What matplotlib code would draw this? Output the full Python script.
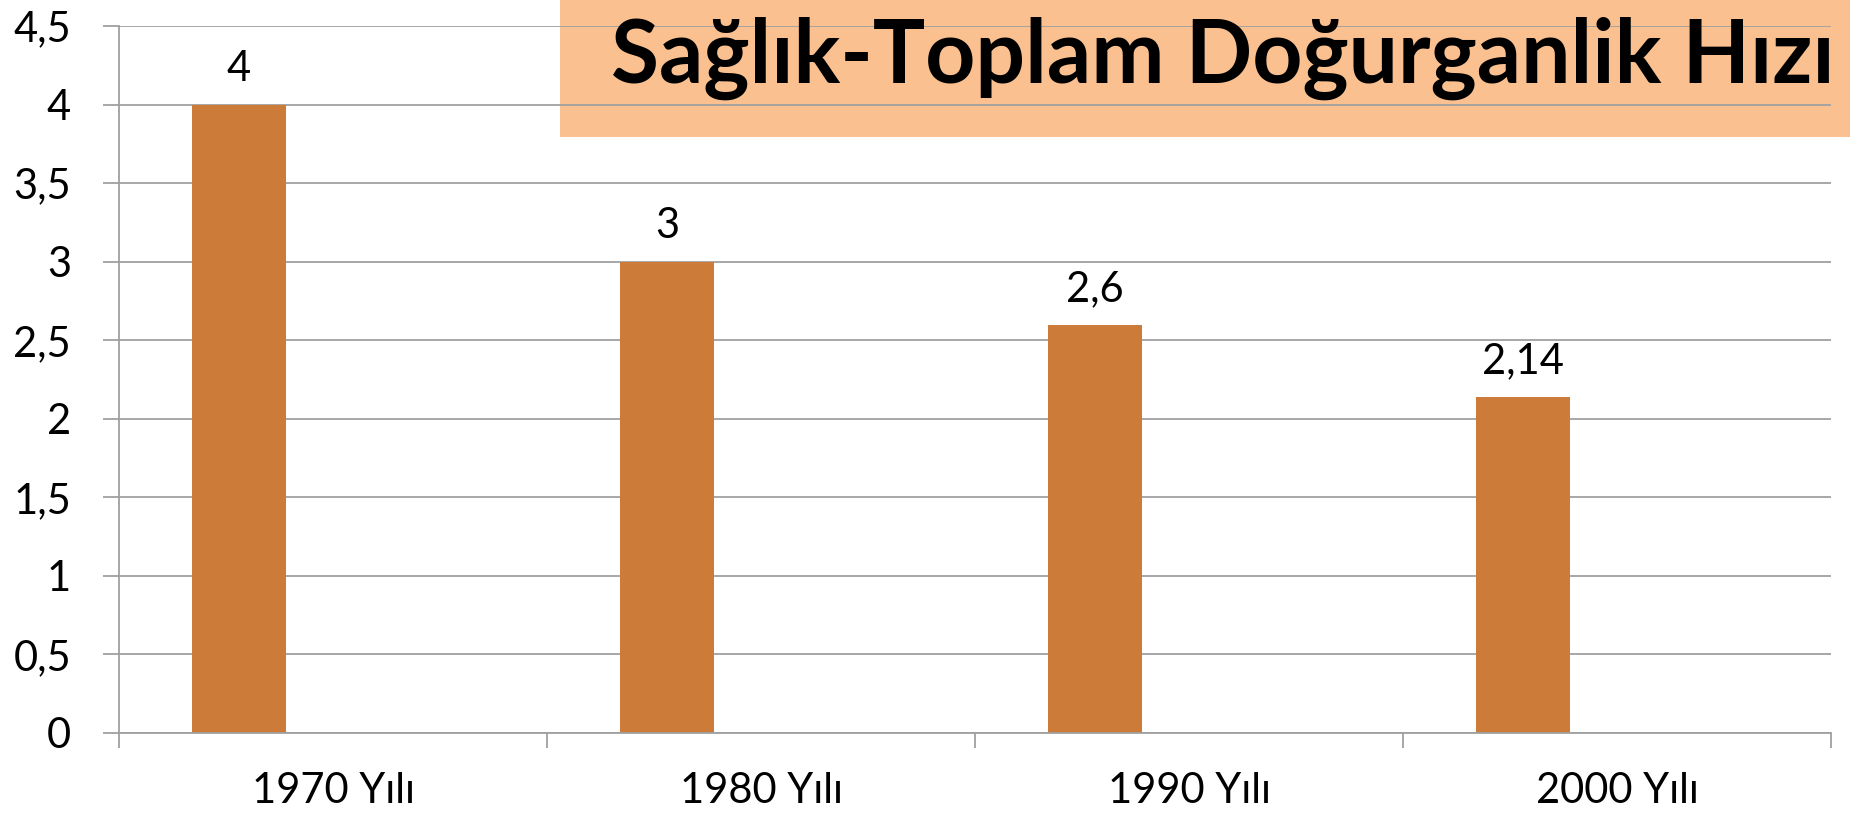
import matplotlib
matplotlib.use("Agg")
import matplotlib.pyplot as plt
from matplotlib.patches import Rectangle
from matplotlib.ticker import FixedLocator, FuncFormatter

categories = ["1970 Yılı", "1980 Yılı", "1990 Yılı", "2000 Yılı"]
values = [4, 3, 2.6, 2.14]
value_labels = ["4", "3", "2,6", "2,14"]
yticks = [0, 0.5, 1, 1.5, 2, 2.5, 3, 3.5, 4, 4.5]
title = "Sağlık-Toplam Doğurganlik Hızı"

plt.rcParams['font.family'] = ['Lato', 'DejaVu Sans']

fig = plt.figure(figsize=(18.5, 8.16), dpi=100)
fig.patch.set_facecolor("white")

# title box behind the axes
box = Rectangle((560/1850, 1 - 137/816), 1 - 560/1850, 137/816,
                transform=fig.transFigure, facecolor="#FAC090",
                edgecolor="none", zorder=-1)
fig.patches.append(box)

ax = fig.add_axes([119/1850, 1 - 733/816, (1831 - 119)/1850, (733 - 26)/816])
ax.set_facecolor("none")

bw = 0.22
x = list(range(len(categories)))
bars = ax.bar([i - bw for i in x], values, width=bw, color="#CC7B39", zorder=2)

for i, (v, lab) in enumerate(zip(values, value_labels)):
    ax.annotate(lab, (i - bw, v), xytext=(0, 17), textcoords="offset points",
                ha="center", va="baseline", fontsize=30, color="black")

ax.set_ylim(0, 4.5)
ax.set_xlim(-0.5, len(categories) - 0.5)
ax.set_yticks(yticks)
ax.yaxis.set_major_formatter(FuncFormatter(lambda v, p: (f"{v:g}").replace(".", ",")))
ax.set_xticks(x)
ax.set_xticklabels(categories)
ax.xaxis.set_minor_locator(FixedLocator([i - 0.5 for i in range(len(categories) + 1)]))

ax.grid(axis="y", color="#A0A0A0", linewidth=1.3)
ax.set_axisbelow(True)

for s in ["top", "right"]:
    ax.spines[s].set_visible(False)
for s in ["left", "bottom"]:
    ax.spines[s].set_color("#A0A0A0")
    ax.spines[s].set_linewidth(1.3)

ax.tick_params(axis="y", length=11.5, width=1.3, color="#A0A0A0", pad=23,
               labelsize=30, labelcolor="black")
ax.tick_params(axis="x", which="major", length=0, pad=28, labelsize=30,
               labelcolor="black")
ax.tick_params(axis="x", which="minor", length=11, width=1.3, color="#A0A0A0")

fig.text(1835/1850, 1 - 83/816, title, ha="right", va="baseline",
         fontsize=63, fontweight="bold", color="black", zorder=5)

fig.savefig("out.png", dpi=100)
